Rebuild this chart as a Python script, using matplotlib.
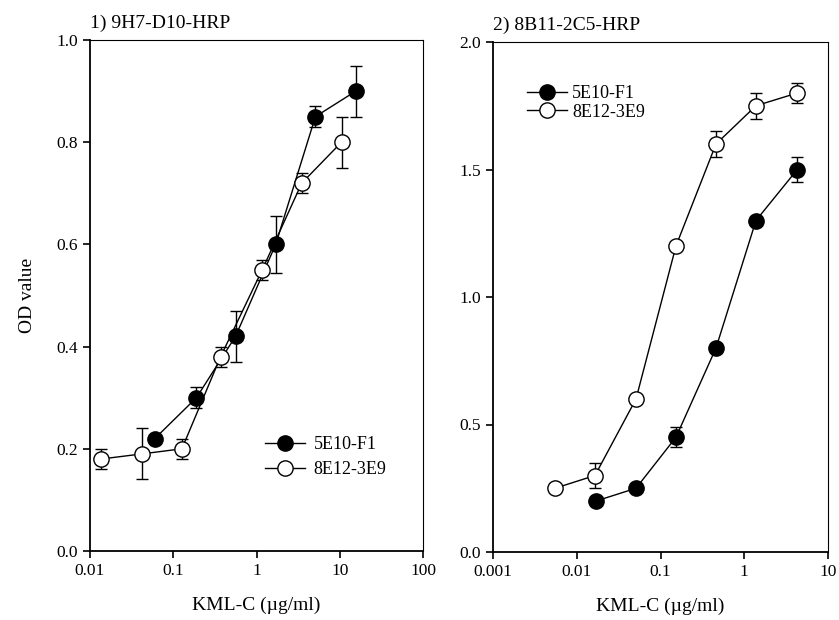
import matplotlib.pyplot as plt
from matplotlib.lines import Line2D
from matplotlib.ticker import FixedLocator, FixedFormatter, NullLocator

plt.rcParams['font.family'] = ['Liberation Serif', 'DejaVu Serif']
plt.rcParams['font.size'] = 12

# panel 1: 9H7-D10-HRP
p1_f_x = [0.060, 0.19, 0.56, 1.7, 5.1, 15.6]
p1_f_y = [0.22, 0.30, 0.42, 0.60, 0.85, 0.90]
p1_f_e = [0.0, 0.02, 0.05, 0.056, 0.02, 0.05]
p1_o_x = [0.0136, 0.042, 0.127, 0.37, 1.17, 3.5, 10.5]
p1_o_y = [0.18, 0.19, 0.20, 0.38, 0.55, 0.72, 0.80]
p1_o_e = [0.02, 0.05, 0.02, 0.02, 0.02, 0.02, 0.05]

# panel 2: 8B11-2C5-HRP
p2_f_x = [0.017, 0.051, 0.153, 0.46, 1.38, 4.3]
p2_f_y = [0.20, 0.25, 0.45, 0.80, 1.30, 1.50]
p2_f_e = [0.0, 0.0, 0.04, 0.0, 0.0, 0.05]
p2_o_x = [0.0055, 0.0165, 0.051, 0.153, 0.46, 1.38, 4.3]
p2_o_y = [0.25, 0.30, 0.60, 1.20, 1.60, 1.75, 1.80]
p2_o_e = [0.0, 0.05, 0.0, 0.0, 0.05, 0.05, 0.04]

labels = ["5E10-F1", "8E12-3E9"]

fig = plt.figure(figsize=(8.39, 6.2), dpi=100)
W, H = 839, 620
ax1 = fig.add_axes([90 / W, 1 - 551 / H, (423 - 90) / W, (551 - 40) / H])
ax2 = fig.add_axes([493 / W, 1 - 552 / H, (828 - 493) / W, (552 - 42) / H])

handles = [
    Line2D([], [], color="black", lw=1, marker="o", markersize=11,
           markerfacecolor="black", markeredgecolor="black"),
    Line2D([], [], color="black", lw=1, marker="o", markersize=11,
           markerfacecolor="white", markeredgecolor="black"),
]


def draw(ax, fx, fy, fe, ox, oy, oe):
    ax.errorbar(fx, fy, yerr=fe, color="black", marker="o", markersize=11,
                markerfacecolor="black", markeredgecolor="black", lw=1,
                capsize=4.5, elinewidth=1, zorder=3)
    ax.errorbar(ox, oy, yerr=oe, color="black", marker="o", markersize=11,
                markerfacecolor="white", markeredgecolor="black", lw=1,
                capsize=4.5, elinewidth=1, zorder=3)
    ax.set_xscale("log")
    ax.xaxis.set_minor_locator(NullLocator())
    ax.spines["top"].set_linewidth(0.8)
    ax.spines["right"].set_linewidth(0.8)
    ax.spines["left"].set_linewidth(1.3)
    ax.spines["bottom"].set_linewidth(1.3)
    ax.tick_params(direction="out", length=5, width=1.2, labelsize=12.5)


draw(ax1, p1_f_x, p1_f_y, p1_f_e, p1_o_x, p1_o_y, p1_o_e)
ax1.set_xlim(0.01, 100)
ax1.set_ylim(0, 1.0)
ax1.xaxis.set_major_locator(FixedLocator([0.01, 0.1, 1, 10, 100]))
ax1.xaxis.set_major_formatter(FixedFormatter(["0.01", "0.1", "1", "10", "100"]))
ax1.set_yticks([0.0, 0.2, 0.4, 0.6, 0.8, 1.0])
ax1.set_yticklabels(["0.0", "0.2", "0.4", "0.6", "0.8", "1.0"])
ax1.set_xlabel("KML-C (µg/ml)", fontsize=14, labelpad=13)
ax1.set_ylabel("OD value", fontsize=14, labelpad=15)
ax1.set_title("1) 9H7-D10-HRP", fontsize=14, loc="left", pad=9)
ax1.legend(handles, labels, loc="upper left",
           bbox_to_anchor=(265 / W, 1 - 436 / H), bbox_transform=fig.transFigure,
           frameon=False, handlelength=2.2, handletextpad=0.5, fontsize=13,
           labelspacing=0.45, borderpad=0, borderaxespad=0)

draw(ax2, p2_f_x, p2_f_y, p2_f_e, p2_o_x, p2_o_y, p2_o_e)
ax2.set_xlim(0.001, 10)
ax2.set_ylim(0, 2.0)
ax2.xaxis.set_major_locator(FixedLocator([0.001, 0.01, 0.1, 1, 10]))
ax2.xaxis.set_major_formatter(FixedFormatter(["0.001", "0.01", "0.1", "1", "10"]))
ax2.set_yticks([0.0, 0.5, 1.0, 1.5, 2.0])
ax2.set_yticklabels(["0.0", "0.5", "1.0", "1.5", "2.0"])
ax2.set_xlabel("KML-C (µg/ml)", fontsize=14, labelpad=13)
ax2.set_title("2) 8B11-2C5-HRP", fontsize=14, loc="left", pad=9)
ax2.legend(handles, labels, loc="upper left",
           bbox_to_anchor=(527 / W, 1 - 85 / H), bbox_transform=fig.transFigure,
           frameon=False, handlelength=2.2, handletextpad=0.3, fontsize=13,
           labelspacing=0.1, borderpad=0, borderaxespad=0)

fig.savefig("out.png", dpi=100)
